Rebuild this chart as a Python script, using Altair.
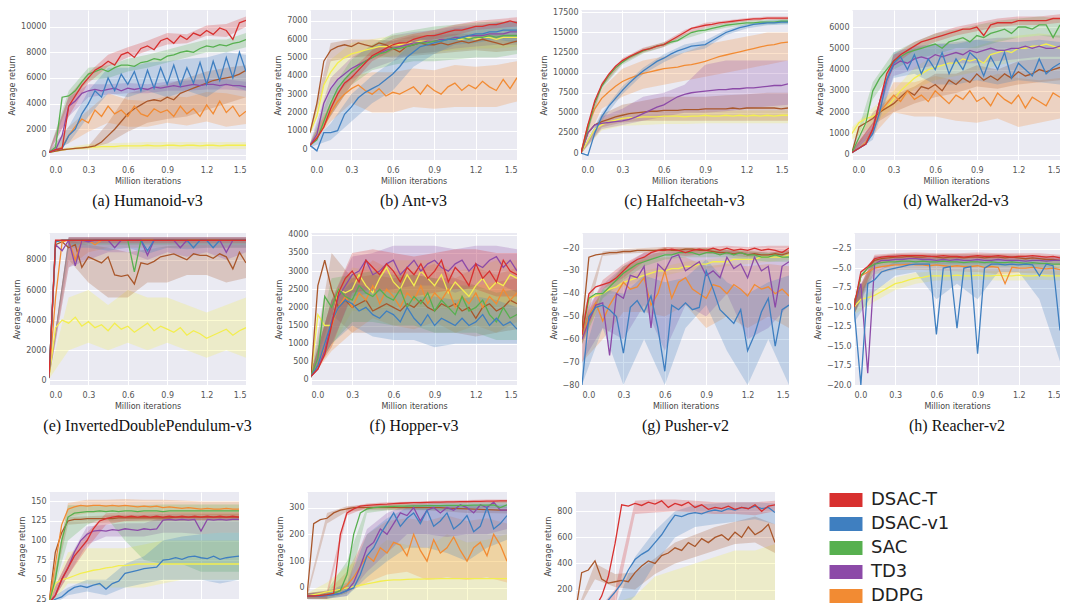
import altair as alt
import pandas as pd

# ---------------------------------------------------------------- shared axes
X = [0.0, 0.05, 0.1, 0.15, 0.2, 0.25, 0.3, 0.35, 0.4, 0.45, 0.5, 0.55, 0.6, 0.65, 0.7,
     0.75, 0.8, 0.85, 0.9, 0.95, 1.0, 1.05, 1.1, 1.15, 1.2, 1.25, 1.3, 1.35, 1.4, 1.45, 1.5]
XB = [0.0, 0.15, 0.3, 0.45, 0.6, 0.75, 0.9, 1.05, 1.2, 1.35, 1.5]
X_TICKS = [0.0, 0.3, 0.6, 0.9, 1.2, 1.5]
SERIES = ["TRPO", "PPO", "DDPG", "TD3", "SAC", "DSAC-v1", "DSAC-T"]
COLORS = ["#f3ee4f", "#a9572b", "#f28b33", "#8c4aa8", "#57b04f", "#3f7fc0", "#d8302f"]
LEGEND_ITEMS = ["DSAC-T", "DSAC-v1", "SAC", "TD3", "DDPG"]

# ---------------------------------------------------------------- (a) Humanoid-v3
HUM_MEAN = {
    "TRPO": [200,300,400,450,500,550,600,600,650,650,650,700,700,700,700,750,700,700,750,750,700,750,750,700,750,750,700,750,750,750,750],
    "PPO": [200,300,400,450,500,550,600,700,1000,1500,2000,2600,3200,3600,3900,4200,4300,4200,4500,4300,4800,5000,5200,5400,5600,5800,5900,6000,6100,6300,6600],
    "DDPG": [200,400,600,1500,2200,2800,2500,3500,3000,3800,3200,3500,3000,3800,3200,3000,3600,3300,3500,3000,3800,3200,3600,3000,3900,3200,4200,3300,3800,3000,3400],
    "TD3": [200,400,1500,3800,4200,4800,5000,5100,5000,5100,5200,5000,5200,5100,5200,5100,5300,5200,5300,5400,5300,5400,5500,5400,5500,5500,5400,5500,5400,5400,5300],
    "SAC": [200,600,4500,4600,5000,5700,6300,6500,6700,6500,6800,7000,7000,6900,7200,7300,7500,7400,7700,7800,8000,8100,8000,8300,8500,8400,8600,8500,8700,8800,9000],
    "DSAC-v1": [200,400,500,1500,2000,3200,4000,5000,4500,6000,5000,6300,5500,6500,5000,6600,5200,6800,5500,7000,5400,6800,5600,7200,5500,7300,5800,7600,6000,8000,6500],
    "DSAC-T": [200,400,500,3800,4600,5400,6000,6600,6900,7300,7000,7800,8000,7600,8300,8500,8200,8900,9100,8700,9300,9000,9500,9300,9700,9400,9900,9700,9000,10300,10500],
}
HUM_LO = {
    "TRPO": [150,400,400,400,450,450,450,450,450,450,450],
    "PPO": [150,400,500,900,1800,2500,2800,3000,3500,4000,4500],
    "DDPG": [150,900,1800,2500,2200,2200,2500,2300,2600,2200,2400],
    "TD3": [150,3000,4500,4700,4800,4800,5000,5000,5100,5100,5000],
    "SAC": [150,4000,5800,6000,6500,6800,7200,7600,8000,8000,8400],
    "DSAC-v1": [150,900,3000,4800,4500,5000,4500,5000,4500,5500,5000],
    "DSAC-T": [150,3000,5600,6900,7600,8100,8600,8700,9300,9200,10000],
}
HUM_HI = {
    "TRPO": [300,600,850,900,950,1000,1000,1000,1000,1000,1000],
    "PPO": [300,500,700,2500,4800,5200,5500,6000,6500,6800,7000],
    "DDPG": [300,2200,3500,4800,4300,4200,4600,4500,4900,4800,4500],
    "TD3": [300,4500,5500,5500,5600,5500,5700,5800,5900,5900,5700],
    "SAC": [300,5000,6800,7000,7500,7800,8200,8600,9000,9000,9500],
    "DSAC-v1": [300,2200,5000,6800,6800,7200,7300,7500,7600,8000,7800],
    "DSAC-T": [300,4600,6400,7800,8400,8900,9500,9400,10100,10200,10800],
}

# ---------------------------------------------------------------- (b) Ant-v3
ANT_MEAN = {
    "TRPO": [900,1800,3500,4200,4700,5000,5200,5300,5400,5500,5600,5600,5700,5700,5800,5800,5900,5900,5900,6000,6000,6000,6000,6100,6000,6100,6100,6000,6100,6100,6100],
    "PPO": [900,2500,4800,5400,5600,5700,5600,5800,5700,5600,5800,5700,5500,5300,5600,5700,5800,5700,5700,5800,5700,5800,5900,5800,5900,6000,5900,5800,5700,5800,5900],
    "DDPG": [200,600,1200,2000,2600,3000,3300,3500,3200,3000,3300,2900,3100,3000,3200,3400,3000,3500,3200,3000,3400,3600,3200,3500,3300,3700,3400,3200,3800,3300,3900],
    "TD3": [200,800,2500,3300,3800,4100,4400,4600,4800,5000,5200,5400,5500,5600,5700,5800,5800,5900,5900,6000,6000,6100,6100,6200,6200,6200,6300,6300,6300,6400,6400],
    "SAC": [200,500,1500,2500,3300,3800,4200,4500,4800,5000,5200,5300,5500,5500,5600,5700,5800,5800,5900,5900,6000,6000,6100,6000,6100,6100,6200,6100,6200,6200,6200],
    "DSAC-v1": [200,-100,900,900,1000,1900,2300,2800,3100,3300,3500,3800,4100,4500,5000,5300,5600,5700,5800,5900,6000,6000,6100,6200,6300,6300,6400,6400,6500,6500,6500],
    "DSAC-T": [200,600,1200,2200,3000,3600,3900,4300,4700,5100,5300,5500,5700,5800,5800,6000,6100,6200,6200,6300,6400,6500,6500,6600,6700,6700,6800,6800,6900,7000,6900],
}
ANT_LO = {
    "TRPO": [800,3500,4500,4900,5100,5200,5300,5400,5500,5500,5600],
    "PPO": [800,4800,5000,5100,5000,5100,5200,5300,5400,5300,5400],
    "DDPG": [100,1500,2500,2000,2000,2300,2200,2300,2300,2300,2600],
    "TD3": [100,2700,3800,4400,4800,5200,5300,5500,5600,5700,5700],
    "SAC": [100,1800,3500,4300,4600,4800,4800,4900,5000,5000,5200],
    "DSAC-v1": [100,500,1500,2500,3200,4500,5200,5700,5800,6000,5800],
    "DSAC-T": [100,1800,3500,4800,5400,5700,6000,6200,6500,6600,6700],
}
ANT_HI = {
    "TRPO": [1000,4900,5800,6000,6200,6300,6400,6500,6500,6600,6600],
    "PPO": [1000,5800,6000,6000,5900,6200,6200,6300,6300,6300,6300],
    "DDPG": [300,2500,4000,4200,4200,4400,4300,4600,4500,4600,4800],
    "TD3": [300,3900,5000,5600,6200,6400,6500,6700,6800,6900,7000],
    "SAC": [300,3200,4900,5700,6300,6500,6700,6800,6900,7000,7000],
    "DSAC-v1": [300,1400,3000,4000,4800,5900,6300,6600,6700,6900,7000],
    "DSAC-T": [300,2600,4300,5400,6000,6300,6500,6800,7000,7100,7200],
}

# ---------------------------------------------------------------- (c) Halfcheetah-v3
HC_MEAN = {
    "TRPO": [0,1500,3000,3500,3900,4100,4300,4400,4400,4500,4500,4500,4600,4600,4600,4500,4600,4600,4700,4600,4600,4700,4600,4700,4600,4700,4600,4700,4600,4700,4700],
    "PPO": [0,2500,3500,3900,4200,4500,4700,4900,5000,5100,5200,5200,5300,5300,5300,5400,5400,5400,5500,5500,5500,5500,5600,5500,5600,5600,5600,5600,5600,5500,5600],
    "DDPG": [0,3500,5500,6800,7600,8300,8900,9300,9600,9900,10100,10300,10500,10600,10700,10900,11000,11200,11400,11700,12000,12200,12400,12600,12800,13000,13200,13400,13500,13700,13800],
    "TD3": [0,2500,3500,3700,3800,3900,4000,4200,4500,4900,5300,5700,6000,6500,7000,7300,7500,7600,7700,7800,7900,7900,8000,8000,8100,8100,8200,8300,8400,8400,8600],
    "SAC": [0,3000,6200,8300,9600,10600,11300,11900,12300,12700,13000,13300,13500,13800,14000,14500,15000,15200,15300,15500,15700,15900,16000,16100,16200,16200,16300,16300,16300,16400,16400],
    "DSAC-v1": [0,-300,2500,4500,5800,6800,7800,8700,9500,10200,10800,11400,11800,12300,12700,13000,13300,13400,13500,14000,14500,15000,15300,15600,15800,16000,16100,16200,16200,16300,16300],
    "DSAC-T": [0,3500,6500,8500,9800,10800,11500,12000,12400,12800,13000,13300,13500,14000,14500,15000,15500,15700,15900,16000,16200,16300,16400,16500,16600,16700,16700,16800,16800,16800,16800],
}
HC_LO = {
    "TRPO": [-100,2800,3400,3500,3600,3600,3700,3700,3700,3700,3700],
    "PPO": [-100,3200,3800,4000,4000,4000,4000,4000,4000,4000,4000],
    "DDPG": [-100,5500,7000,8000,8500,9000,9500,10000,10500,11000,11500],
    "TD3": [-100,3000,3500,4000,4500,5000,5000,5200,5500,5800,6000],
    "SAC": [-100,8000,11000,12400,13200,14200,15000,15600,15900,16000,16100],
    "DSAC-v1": [-200,4000,7300,9800,11300,12500,13000,14700,15500,15900,16000],
    "DSAC-T": [-100,8200,11200,12500,13200,14700,15600,16100,16400,16600,16600],
}
HC_HI = {
    "TRPO": [100,4200,5000,5200,5200,5200,5300,5300,5300,5300,5300],
    "PPO": [100,4800,6000,6500,7000,7000,7000,7200,7300,7500,7500],
    "DDPG": [100,8000,10500,11500,12000,12500,13500,14000,14500,15000,15000],
    "TD3": [100,4500,5500,7000,7500,8500,11000,11500,11500,11500,11500],
    "SAC": [100,8600,11600,13000,13800,14800,15600,16200,16500,16600,16700],
    "DSAC-v1": [100,5000,8300,10600,12300,13500,14000,15300,16100,16500,16600],
    "DSAC-T": [100,8800,11800,13100,13800,15300,16200,16500,16800,17000,17000],
}

# ---------------------------------------------------------------- (d) Walker2d-v3
WK_MEAN = {
    "TRPO": [1000,1500,1700,1800,2000,2200,2600,3000,3300,3600,3800,4000,4100,4200,4300,4300,4500,4400,4500,4300,4700,4800,4900,4800,5000,5000,5100,5100,5200,5100,5000],
    "PPO": [100,1300,1500,1700,2000,2200,2400,2700,3000,2800,3200,3100,3300,3000,3500,3300,3600,3400,3800,3500,3700,3500,3800,3600,3900,3700,3800,4000,3900,4000,4100],
    "DDPG": [100,300,600,1200,2000,2400,2800,2500,3000,2600,2800,2500,3000,2700,2400,2800,2600,3000,2500,2700,2300,2900,2600,2400,2800,2200,2700,2500,2300,2900,2700],
    "TD3": [100,300,500,1200,2500,3500,4200,4400,4300,4500,4600,4500,4700,4600,4700,4800,4700,4900,4800,4900,5000,4900,4900,5000,5000,5100,5000,5100,5000,5000,5100],
    "SAC": [100,800,1500,3000,3600,4000,4400,4600,4800,4900,5000,5100,5200,5000,5300,5400,5500,5300,5600,5500,5700,5800,5900,5700,6000,6000,5900,6100,6100,5500,6100],
    "DSAC-v1": [100,300,500,1000,2000,3500,4300,4600,4000,4700,3800,4500,4000,4800,3800,4500,4000,4800,4500,3700,4600,4000,4800,3600,4300,4000,3700,4500,3800,4100,4300],
    "DSAC-T": [100,300,500,1200,2500,3800,4400,4700,4900,5100,5300,5400,5500,5600,5700,5800,5900,5900,6000,5600,6100,6200,6200,6200,6300,6300,6300,6300,6300,6400,6400],
}
WK_LO = {
    "TRPO": [700,1400,2200,3100,3500,3700,3900,4200,4400,4500,4500],
    "PPO": [50,1400,2000,2400,2700,2900,3200,3100,3300,3400,3500],
    "DDPG": [50,900,2000,1800,1800,1600,1500,1700,1300,1500,1700],
    "TD3": [50,900,3700,4000,4200,4300,4300,4400,4500,4600,4600],
    "SAC": [50,2600,4000,4500,4700,5000,5000,5300,5500,5600,5500],
    "DSAC-v1": [50,700,3600,3800,3300,3300,3500,3300,3500,3400,3300],
    "DSAC-T": [50,1000,4200,4900,5300,5600,5800,6000,6100,6100,6200],
}
WK_HI = {
    "TRPO": [1300,2200,3000,4100,4700,4900,5100,5400,5600,5700,5600],
    "PPO": [200,2000,2800,3200,3800,3800,4200,4000,4400,4500,4500],
    "DDPG": [200,1500,3400,3400,3700,3500,3500,3800,3600,3500,3600],
    "TD3": [200,1500,4700,5000,5200,5300,5400,5500,5500,5600,5600],
    "SAC": [200,3400,4800,5300,5700,5900,6100,6300,6400,6500,6400],
    "DSAC-v1": [200,1300,4800,5100,5200,5200,5400,5300,5300,5400,5300],
    "DSAC-T": [200,1500,4700,5300,5700,6000,6200,6400,6500,6500,6600],
}

# ---------------------------------------------------------------- (e) InvertedDoublePendulum-v3
IDP_MEAN = {
    "TRPO": [200,3500,4000,3800,4200,3600,3900,3500,3700,3300,3800,3400,3600,3200,3500,3800,3300,3600,3400,3200,3500,3000,3300,3100,2800,3000,3200,3400,3000,3300,3500],
    "PPO": [200,9000,9200,8800,9000,7500,8200,8000,7800,8200,7000,6900,7000,6400,7800,7700,7900,8200,8300,8400,8200,8000,8400,8300,8300,8100,8400,8200,7400,8500,7800],
    "DDPG": [200,5500,9200,9300,8000,9300,9300,9000,9300,9300,9300,9300,9300,9300,9300,9300,9300,9300,9300,9300,9300,9300,9300,9300,9300,9300,9300,9300,9300,9300,9300],
    "TD3": [200,9000,8600,9300,7600,9300,9200,9300,9300,9300,8800,9300,9300,9300,9300,8300,9300,9300,9300,9300,8800,9300,9300,9300,9300,9300,9300,8500,9300,9300,9300],
    "SAC": [200,9200,9300,9300,9300,9300,9300,9300,9300,9300,9300,9300,9300,7200,9300,9300,9300,9300,9300,9300,9300,9300,9300,9300,9300,9300,9300,9300,9300,9300,9300],
    "DSAC-v1": [200,9200,9300,9300,9300,9300,9300,9300,9300,9300,9300,9300,9300,9300,9300,8600,9300,9300,9300,9300,9300,9300,8800,9300,9300,8800,9300,9300,9300,9300,9300],
    "DSAC-T": [200,9300,9300,9300,9300,9300,9300,9300,9300,9300,9300,9300,9300,9300,9300,9300,9300,9300,9300,9300,9300,9300,9300,9300,9300,9300,9300,9300,9300,9300,9300],
}
IDP_LO = {
    "TRPO": [100,2000,2500,2000,2500,2000,2500,2000,1500,2000,1500],
    "PPO": [100,8000,6500,5500,5500,6500,6500,7000,7000,6500,6800],
    "DDPG": [100,7500,8500,8800,8800,8800,8800,8800,8800,8800,8800],
    "TD3": [100,7500,8000,8500,8500,8000,8500,8200,8500,8000,8500],
    "SAC": [100,9000,9000,9000,9000,9000,9000,9000,9000,9000,9000],
    "DSAC-v1": [100,8800,8800,8600,8800,8400,8800,8700,8800,8800,8800],
    "DSAC-T": [100,9100,9100,9100,9100,9100,9100,9100,9100,9100,9100],
}
IDP_HI = {
    "TRPO": [300,5500,6000,5000,6000,5500,5500,5000,4500,5000,5500],
    "PPO": [300,9300,9000,8800,8500,8700,8900,9000,9000,9000,9000],
    "DDPG": [300,9500,9500,9500,9500,9500,9500,9500,9500,9500,9500],
    "TD3": [300,9500,9500,9500,9500,9500,9500,9500,9500,9500,9500],
    "SAC": [300,9400,9400,9400,9400,9400,9400,9400,9400,9400,9400],
    "DSAC-v1": [300,9500,9500,9500,9500,9500,9500,9500,9500,9500,9500],
    "DSAC-T": [300,9500,9500,9500,9500,9500,9500,9500,9500,9500,9500],
}

# ---------------------------------------------------------------- (f) Hopper-v3
HOP_MEAN = {
    "TRPO": [100,1800,1500,1500,2500,2400,2500,2900,2600,2400,2800,3100,2700,2500,2900,2600,3000,2800,2600,2900,2400,2700,2500,2300,2600,2800,2500,2700,2600,2900,2800],
    "PPO": [100,2600,3300,2500,2000,2200,2000,2100,2200,1900,2000,2100,2000,1900,2100,2000,2200,2000,1900,2100,2000,2100,1900,2000,1700,2000,2100,1900,2000,2200,2100],
    "DDPG": [100,400,900,1500,2000,2300,2000,2400,2200,2600,2100,2500,2300,2000,2400,2200,2600,2100,2400,2200,2500,2000,2300,2100,2400,2000,2300,2100,2500,2200,2400],
    "TD3": [100,300,800,1600,2300,2600,2900,3000,3300,2900,3000,3200,3300,2900,3100,3300,3000,3200,3300,3100,3000,3200,3300,3000,3200,3100,3300,3400,3100,3300,3000],
    "SAC": [100,600,2300,2000,2500,2300,2200,2600,2400,2300,2500,2300,2200,2500,2000,2300,2100,2400,1900,2200,2000,1800,2300,1900,2000,2200,1800,1600,2000,1700,1800],
    "DSAC-v1": [100,400,1000,1600,2000,2200,2100,1900,2000,1800,1700,1900,1800,1600,2000,1700,1500,1800,1500,1700,1600,1500,1700,1500,1600,1800,1500,1700,1500,1600,1400],
    "DSAC-T": [100,300,700,1500,2400,2800,3000,2700,3300,3100,2900,3200,3000,2700,3100,2900,3200,2800,3000,3300,2700,3100,2900,2600,3200,2800,3000,2700,3300,3000,2900],
}
HOP_LO = {
    "TRPO": [50,900,1900,1900,2000,2000,2000,1900,1900,2000,2100],
    "PPO": [50,1800,1300,1300,1300,1300,1300,1300,1200,1300,1400],
    "DDPG": [50,800,1300,1700,1500,1400,1600,1300,1500,1300,1600],
    "TD3": [50,1000,2300,2400,2500,2600,2600,2400,2600,2700,2400],
    "SAC": [50,1000,1600,1600,1500,1500,1300,1300,1300,1100,1100],
    "DSAC-v1": [50,1000,1500,1200,1100,1100,900,1000,1000,1000,1000],
    "DSAC-T": [50,900,2400,2500,2400,2300,2400,2500,2500,2300,2300],
}
HOP_HI = {
    "TRPO": [200,2200,3100,3000,3300,3300,3300,3000,3100,3300,3300],
    "PPO": [200,3500,2800,2900,2800,2900,2800,2800,2600,2700,2800],
    "DDPG": [200,2200,2800,3300,3000,3000,3200,2800,3100,2900,3100],
    "TD3": [200,2200,3400,3500,3700,3700,3700,3600,3700,3700,3600],
    "SAC": [200,2800,2900,3000,2900,2900,2800,2600,2600,2400,2500],
    "DSAC-v1": [200,2200,2700,2500,2400,2300,2300,2200,2300,2200,2000],
    "DSAC-T": [200,2200,3500,3600,3500,3400,3500,3600,3600,3500,3500],
}

# ---------------------------------------------------------------- (g) Pusher-v2
PUSH_MEAN = {
    "TRPO": [-58,-42,-41,-40,-38,-37,-35,-34,-33,-32,-31,-30,-30,-29,-29,-28,-28,-27,-27,-26,-26,-26,-25,-25,-25,-25,-24,-24,-24,-24,-23],
    "PPO": [-55,-24,-23,-22.5,-22,-22,-21.5,-21.5,-21,-21,-21,-21,-20.5,-21,-21,-20.5,-20.5,-21,-21,-21.5,-22,-22,-22.5,-22,-23,-22.5,-23,-23,-22.5,-23,-22],
    "DDPG": [-60,-50,-44,-52,-45,-40,-35,-38,-37,-33,-45,-40,-30,-42,-35,-33,-38,-40,-42,-36,-37,-40,-36,-38,-41,-36,-38,-37,-40,-38,-41],
    "TD3": [-60,-52,-45,-44,-67,-40,-42,-32,-33,-28,-55,-27,-30,-24,-23,-30,-28,-26,-32,-30,-33,-24,-29,-27,-33,-24,-30,-28,-46,-28,-26],
    "SAC": [-58,-42,-40,-40,-37,-34,-31,-29,-27,-26,-25,-24,-23,-23,-22,-22,-22,-23,-22,-22,-23,-22,-23,-22,-23,-23,-24,-24,-23,-24,-24],
    "DSAC-v1": [-80,-50,-46,-45,-47,-50,-66,-46,-43,-48,-41,-55,-74,-45,-47,-44,-47,-46,-30,-38,-47,-50,-53,-47,-65,-58,-48,-42,-63,-47,-45],
    "DSAC-T": [-58,-40,-37,-36,-35,-33,-30,-27,-25,-24,-22,-21,-21,-20.5,-21,-22,-21,-20.5,-21,-20,-21,-20,-21,-20.5,-21,-20,-21,-20.5,-21,-22,-20],
}
PUSH_LO = {
    "TRPO": [-62,-42,-37,-34,-32,-30,-29,-28,-27,-26,-25],
    "PPO": [-60,-23.5,-22.5,-22,-21.5,-21.5,-22,-23,-24,-24,-23.5],
    "DDPG": [-70,-60,-48,-48,-50,-45,-55,-50,-55,-50,-55],
    "TD3": [-70,-55,-60,-45,-65,-45,-50,-40,-60,-55,-45],
    "SAC": [-62,-42,-34,-28,-25,-24,-24,-24,-25,-26,-26],
    "DSAC-v1": [-80,-55,-80,-60,-80,-55,-45,-65,-80,-60,-80],
    "DSAC-T": [-62,-38,-33,-26,-22.5,-23.5,-22.5,-22,-22.5,-22,-22],
}
PUSH_HI = {
    "TRPO": [-54,-38,-33,-30,-28,-26,-25,-24,-23,-22,-21],
    "PPO": [-50,-21.5,-20.5,-20,-19.5,-19.5,-20,-21,-21.5,-22,-21],
    "DDPG": [-50,-40,-28,-25,-24,-24,-28,-27,-28,-27,-28],
    "TD3": [-50,-36,-28,-22,-22,-21,-22,-21,-22,-22,-21],
    "SAC": [-54,-38,-28,-24,-21,-20,-20,-20.5,-21,-22,-22],
    "DSAC-v1": [-70,-38,-40,-32,-35,-33,-25,-35,-40,-35,-32],
    "DSAC-T": [-54,-34,-27,-22,-19.5,-20,-19.5,-19,-19.5,-19,-19],
}

# ---------------------------------------------------------------- (h) Reacher-v2
REA_MEAN = {
    "TRPO": [-10,-9,-8.8,-8.5,-8,-7.5,-7,-6.8,-6.5,-6.3,-6.2,-6,-6,-6,-6,-5.9,-6,-6,-5.9,-6,-6,-5.9,-6,-6,-5.9,-6,-6,-5.9,-6,-6,-6],
    "PPO": [-10,-6,-5,-4,-3.8,-3.7,-3.6,-3.6,-3.5,-3.6,-3.6,-3.5,-3.6,-3.7,-3.6,-3.6,-3.7,-3.6,-3.6,-3.7,-3.6,-3.6,-3.7,-3.6,-3.7,-3.8,-3.7,-3.8,-3.9,-3.9,-4.0],
    "DDPG": [-10,-6,-5.5,-5,-4.8,-4.7,-4.6,-4.6,-4.5,-4.6,-4.6,-4.7,-4.6,-4.7,-4.8,-4.7,-4.8,-4.8,-4.7,-4.9,-4.8,-4.9,-7,-4.9,-5,-5,-4.9,-5,-5.1,-5,-5.2],
    "TD3": [-10,-7,-18.5,-4.5,-4,-4,-3.9,-3.9,-3.8,-3.8,-3.9,-3.9,-4,-3.9,-4,-3.9,-4,-4,-3.9,-4,-4,-3.9,-4,-4,-4,-4.1,-4,-4,-4.1,-4,-4],
    "SAC": [-10,-6,-5,-4.5,-4.3,-4.2,-4.2,-4.1,-4.1,-4.2,-4.1,-4.2,-4.2,-4.1,-4.2,-4.2,-4.3,-4.2,-4.2,-4.3,-4.2,-4.3,-4.3,-4.2,-4.3,-4.4,-4.3,-4.4,-4.4,-4.5,-4.5],
    "DSAC-v1": [-10,-20,-7,-6.5,-5.5,-5.2,-5,-4.8,-4.6,-4.5,-4.5,-4.5,-13.5,-5,-4.8,-12.7,-5,-4.8,-16,-5,-4.5,-4.5,-4.6,-4.5,-4.6,-4.5,-4.6,-6,-4.5,-4.7,-13],
    "DSAC-T": [-10,-5.5,-4.8,-3.8,-3.6,-3.5,-3.5,-3.4,-3.4,-3.4,-3.4,-3.5,-3.5,-3.4,-3.5,-3.5,-3.6,-3.5,-3.4,-3.5,-3.5,-3.4,-3.5,-3.6,-3.5,-3.5,-3.4,-3.5,-3.6,-3.5,-3.7],
}
REA_LO = {
    "TRPO": [-11,-9.3,-7.8,-7,-6.6,-6.6,-6.5,-6.6,-6.6,-6.5,-6.6],
    "PPO": [-11,-4.5,-4,-4,-4,-4,-4,-4,-4.1,-4.2,-4.5],
    "DDPG": [-11,-5.8,-5.2,-5.2,-5.3,-5.4,-5.5,-5.8,-5.6,-5.7,-5.9],
    "TD3": [-11,-5.5,-4.5,-4.4,-4.5,-4.5,-4.5,-4.5,-4.6,-4.6,-4.6],
    "SAC": [-11,-5,-4.6,-4.6,-4.7,-4.7,-4.8,-4.8,-4.8,-4.9,-5],
    "DSAC-v1": [-12,-8,-6,-5.5,-9,-7,-9,-5.5,-5.5,-9,-17],
    "DSAC-T": [-11,-4.3,-3.9,-3.8,-3.9,-3.9,-3.8,-3.9,-3.9,-3.9,-4.1],
}
REA_HI = {
    "TRPO": [-9,-7.8,-6.2,-5.6,-5.4,-5.4,-5.3,-5.4,-5.4,-5.3,-5.4],
    "PPO": [-9,-3.5,-3.2,-3.2,-3.2,-3.2,-3.2,-3.2,-3.3,-3.4,-3.5],
    "DDPG": [-9,-4.3,-4,-4,-4,-4.1,-4.1,-4.2,-4.2,-4.3,-4.5],
    "TD3": [-9,-3.5,-3.3,-3.3,-3.4,-3.4,-3.4,-3.4,-3.5,-3.5,-3.5],
    "SAC": [-9,-4,-3.7,-3.6,-3.7,-3.7,-3.8,-3.8,-3.8,-3.9,-4],
    "DSAC-v1": [-9,-5.5,-4.2,-4,-4,-4,-4,-4,-4,-4.2,-5],
    "DSAC-T": [-9,-3.3,-3.1,-3.0,-3.1,-3.1,-3.0,-3.1,-3.1,-3.1,-3.3],
}

# ---------------------------------------------------------------- (i) bottom-left panel
PI_MEAN = {
    "TRPO": [20,45,50,52,55,58,60,62,63,65,66,68,68,69,70,70,70,70,70,70,70,70,70,70,70,70,70,70,70,70,70],
    "PPO": [20,85,110,125,127,127,128,128,128,128,128,129,129,129,129,129,129,129,129,129,130,130,130,130,130,130,130,130,130,130,130],
    "DDPG": [20,70,120,140,143,145,144,145,145,144,145,144,145,144,143,144,143,144,142,143,142,141,142,141,140,141,140,140,141,140,140],
    "TD3": [20,30,50,65,85,100,108,112,113,112,114,113,115,114,113,115,114,115,126,127,126,127,126,127,112,127,126,127,126,127,127],
    "SAC": [20,50,100,130,135,136,137,137,138,137,138,137,138,138,137,138,138,138,137,138,138,138,138,138,138,138,138,138,138,138,138],
    "DSAC-v1": [20,25,28,35,40,42,40,43,45,38,45,48,58,60,62,64,65,66,75,76,78,76,79,80,78,77,80,76,78,79,80],
    "DSAC-T": [20,30,50,65,80,90,100,115,125,128,130,131,130,131,130,131,130,131,130,131,130,131,130,131,130,131,130,131,130,131,130],
}
PI_LO = {
    "TRPO": [15,45,45,40,40,40,45,50,50,50,50],
    "PPO": [15,120,122,123,124,124,125,125,126,126,126],
    "DDPG": [15,130,135,136,136,135,135,134,133,132,132],
    "TD3": [15,55,95,105,105,105,110,110,108,110,110],
    "SAC": [15,100,120,130,100,75,70,70,60,60,60],
    "DSAC-v1": [15,30,35,30,40,45,50,50,50,45,50],
    "DSAC-T": [15,55,90,120,125,126,126,126,126,126,126],
}
PI_HI = {
    "TRPO": [25,85,90,90,90,95,100,100,100,100,100],
    "PPO": [25,130,131,132,133,133,134,134,134,134,134],
    "DDPG": [25,148,152,152,153,152,152,151,150,150,150],
    "TD3": [25,75,118,120,122,122,130,131,131,131,131],
    "SAC": [25,145,145,145,145,145,146,146,146,146,146],
    "DSAC-v1": [25,40,50,50,70,80,100,105,108,110,110],
    "DSAC-T": [25,75,110,135,136,136,136,136,136,136,136],
}

# ---------------------------------------------------------------- (j) bottom-middle panel
PJ_MEAN = {
    "TRPO": [-30,-25,-20,-15,-10,-5,0,5,10,15,20,25,28,30,30,32,33,33,34,34,35,35,35,35,35,35,35,35,35,35,35],
    "PPO": [-30,240,255,260,280,290,295,300,300,300,300,300,300,300,300,300,300,300,300,300,300,298,297,296,295,294,293,292,291,290,290],
    "DDPG": [-30,-30,-30,-25,-20,-10,10,40,80,120,100,150,130,170,160,120,200,140,100,180,130,150,190,140,100,150,170,120,200,160,100],
    "TD3": [-30,-30,-30,-28,-25,-20,-10,20,80,150,170,220,200,240,280,270,300,250,290,300,280,300,290,310,300,280,310,300,320,290,290],
    "SAC": [-30,-30,-28,-25,-20,-10,50,200,280,295,300,302,303,304,305,305,306,306,307,307,307,308,308,308,308,309,309,309,310,300,310],
    "DSAC-v1": [-30,-30,-30,-28,-25,-20,-10,0,50,120,150,200,240,280,230,260,280,240,290,230,250,280,220,240,270,210,230,300,220,240,270],
    "DSAC-T": [-30,-30,-28,-25,-20,200,280,295,305,308,310,312,313,315,316,317,318,318,319,320,320,321,321,322,322,323,323,324,324,325,325],
}
PJ_LO = {
    "TRPO": [-40,-45,-45,-45,-45,-45,-45,-45,-45,-45,-45],
    "PPO": [-40,240,285,290,290,290,290,285,280,280,278],
    "DDPG": [-40,-40,-20,20,50,60,30,40,30,40,20],
    "TD3": [-40,-40,-30,60,130,200,200,190,200,200,220],
    "SAC": [-40,-40,-20,280,290,295,290,290,295,300,300],
    "DSAC-v1": [-40,-40,-30,40,100,150,150,130,100,150,180],
    "DSAC-T": [-40,-40,270,300,305,310,312,315,317,318,318],
}
PJ_HI = {
    "TRPO": [-20,20,80,120,180,160,150,200,170,180,200],
    "PPO": [-20,280,305,310,310,310,310,308,306,304,302],
    "DDPG": [-20,-15,60,200,250,260,250,270,250,260,240],
    "TD3": [-20,-15,20,220,280,310,320,320,320,320,320],
    "SAC": [-20,-10,100,305,310,315,315,318,320,320,325],
    "DSAC-v1": [-20,-15,10,200,260,300,310,310,310,310,310],
    "DSAC-T": [-20,-10,300,315,320,322,324,326,328,330,330],
}

# ---------------------------------------------------------------- (k) bottom-right panel
PK_MEAN = {
    "TRPO": [0,10,20,30,40,50,55,60,65,70,75,80,85,90,90,95,95,100,100,100,105,105,105,110,110,110,110,110,110,110,110],
    "PPO": [0,330,350,420,280,250,260,270,260,330,380,420,400,460,480,520,500,560,530,590,560,600,620,580,640,600,680,620,650,700,560],
    "DSAC-v1": [0,0,0,20,60,120,180,250,350,430,470,500,560,620,700,770,760,780,790,780,800,810,800,820,810,830,820,840,820,830,790],
    "DSAC-T": [0,0,20,60,150,300,550,850,840,860,845,870,855,880,830,860,845,870,830,850,815,830,820,840,815,830,820,850,800,840,850],
}
PK_LO = {
    "TRPO": [0,0,0,0,0,0,50,50,50,50,50],
    "PPO": [0,280,220,200,320,400,450,500,550,560,480],
    "DSAC-v1": [0,0,0,150,400,600,680,700,720,740,700],
    "DSAC-T": [0,0,60,780,790,800,790,780,780,770,800],
}
PK_HI = {
    "TRPO": [0,50,100,150,300,350,400,450,500,500,550],
    "PPO": [0,400,320,330,440,560,620,680,720,760,700],
    "DSAC-v1": [0,0,60,450,650,800,850,860,870,870,860],
    "DSAC-T": [0,20,200,880,890,890,880,870,870,870,880],
}

# ---------------------------------------------------------------- chart building
STROKE_SCALE = alt.Scale(domain=SERIES, range=COLORS)
FILL_SCALE = alt.Scale(domain=SERIES, range=COLORS)
LEGEND = alt.Legend(
    values=LEGEND_ITEMS, title=None, orient="none", legendX=788, legendY=481,
    symbolType="M-2,-0.85H2V0.85H-2Z", symbolSize=272, symbolStrokeWidth=0,
    symbolOpacity=1, labelFontSize=18, labelFont="DejaVu Sans", labelColor="#222222",
    labelOffset=16, rowPadding=6, labelLimit=300,
)


def frames(mean, lo, hi):
    rows, brows = [], []
    for s in SERIES:
        if s not in mean:
            continue
        for x, y in zip(X, mean[s]):
            rows.append({"x": x, "y": y, "s": s})
        for x, l, h in zip(XB, lo[s], hi[s]):
            brows.append({"x": x, "lo": l, "hi": h, "s": s})
    return pd.DataFrame(rows), pd.DataFrame(brows)


def panel(mean, lo, hi, ydom, yticks, yfmt, caption, w, h, bottom=False):
    ldf, bdf = frames(mean, lo, hi)
    xs = alt.Scale(domain=[0, 1.5], nice=False, zero=False)
    ys = alt.Scale(domain=ydom, nice=False, zero=False)
    if bottom:
        xaxis = alt.Axis(values=X_TICKS, labels=False, title=None)
    else:
        xaxis = alt.Axis(values=X_TICKS, format=".1f", title="Million iterations",
                         labelPadding=6, titlePadding=3)
    yaxis = alt.Axis(values=yticks, format=yfmt, title="Average return")
    band = alt.Chart(bdf).mark_area(clip=True, fillOpacity=0.25).encode(
        x=alt.X("x:Q", scale=xs, axis=xaxis),
        y=alt.Y("lo:Q", scale=ys, axis=yaxis),
        y2="hi:Q",
        fill=alt.Fill("s:N", scale=FILL_SCALE, legend=LEGEND),
    )
    line = alt.Chart(ldf).mark_line(clip=True, strokeWidth=1.3).encode(
        x=alt.X("x:Q", scale=xs, axis=xaxis),
        y=alt.Y("y:Q", scale=ys, axis=yaxis),
        stroke=alt.Stroke("s:N", scale=STROKE_SCALE, legend=None),
    )
    props = dict(width=w, height=h)
    if caption:
        props["title"] = alt.TitleParams(
            caption, orient="bottom", font="Liberation Serif", fontSize=16,
            fontWeight="normal", color="#111111", offset=8, anchor="middle", frame="group")
    return alt.layer(band, line).properties(**props)


H1, H2, H3 = 150, 152, 108

pa = panel(HUM_MEAN, HUM_LO, HUM_HI, [-400, 11300], [0, 2000, 4000, 6000, 8000, 10000], "d", "(a) Humanoid-v3", 197, H1)
pb = panel(ANT_MEAN, ANT_LO, ANT_HI, [-600, 7600], [0, 1000, 2000, 3000, 4000, 5000, 6000, 7000], "d", "(b) Ant-v3", 207, H1)
pc = panel(HC_MEAN, HC_LO, HC_HI, [-870, 17800], [0, 2500, 5000, 7500, 10000, 12500, 15000, 17500], "d", "(c) Halfcheetah-v3", 207, H1)
pd_ = panel(WK_MEAN, WK_LO, WK_HI, [-250, 6800], [0, 1000, 2000, 3000, 4000, 5000, 6000], "d", "(d) Walker2d-v3", 208, H1)

pe = panel(IDP_MEAN, IDP_LO, IDP_HI, [-300, 9780], [0, 2000, 4000, 6000, 8000], "d", "(e) InvertedDoublePendulum-v3", 197, H2)
pf = panel(HOP_MEAN, HOP_LO, HOP_HI, [-140, 4050], [0, 500, 1000, 1500, 2000, 2500, 3000, 3500, 4000], "d", "(f) Hopper-v3", 206, H2)
pg = panel(PUSH_MEAN, PUSH_LO, PUSH_HI, [-80, -13.4], [-80, -70, -60, -50, -40, -30, -20], "d", "(g) Pusher-v2", 207, H2)
ph = panel(REA_MEAN, REA_LO, REA_HI, [-20, -0.5], [-20, -17.5, -15, -12.5, -10, -7.5, -5, -2.5], ".1f", "(h) Reacher-v2", 206, H2)

pi = panel(PI_MEAN, PI_LO, PI_HI, [24, 162], [25, 50, 75, 100, 125, 150], "d", None, 190, H3, bottom=True)
pj = panel(PJ_MEAN, PJ_LO, PJ_HI, [-45, 358], [0, 100, 200, 300], "d", None, 200, H3, bottom=True)
pk = panel(PK_MEAN, PK_LO, PK_HI, [120, 948], [200, 400, 600, 800], "d", None, 200, H3, bottom=True)

row1 = alt.hconcat(pa, pb, pc, pd_, spacing=64, bounds="flush")
row2 = alt.hconcat(pe, pf, pg, ph, spacing=65, bounds="flush")
row3 = alt.hconcat(pi, pj, pk, spacing=68, bounds="flush")

top = alt.vconcat(row1, row2, spacing=21)
chart = alt.vconcat(top, row3, spacing=58).properties(padding=0).configure_view(
    fill="#eaeaf2", strokeWidth=0
).configure_axis(
    grid=True, gridColor="#ffffff", gridWidth=1, domain=False, ticks=False,
    labelFont="DejaVu Sans", titleFont="DejaVu Sans", labelFontSize=8, titleFontSize=8,
    labelColor="#555555", titleColor="#444444", titleFontWeight="normal",
    labelPadding=3, titlePadding=4,
)

chart.save("out.html", embed_options={"renderer": "svg", "actions": False})
